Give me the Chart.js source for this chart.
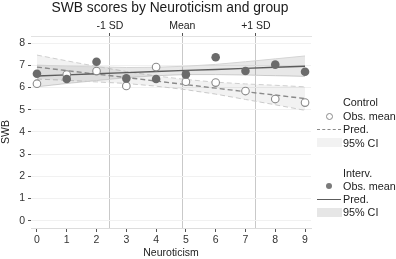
<!DOCTYPE html>
<html>
<head>
<meta charset="utf-8">
<script src="https://cdn.jsdelivr.net/npm/chart.js@4"></script>
<style>
html,body{margin:0;padding:0;background:#fff;}
#wrap{position:relative;width:396px;height:259px;font-family:"Liberation Sans",Arial,sans-serif;overflow:hidden;}
canvas{position:absolute;left:0;top:0;}
.lg{position:absolute;font-size:10.8px;color:#222;line-height:13px;white-space:nowrap;}
.mk{position:absolute;}
#title{position:absolute;left:0;width:340px;top:0;text-align:center;font-size:13.8px;line-height:16px;color:#1a1a1a;white-space:nowrap;}
</style>
</head>
<body>
<div id="wrap">
<canvas id="c" width="396" height="259"></canvas>
<div id="title">SWB scores by Neuroticism and group</div>
<div class="lg" style="left:343px;top:95.5px;">Control</div>
<div class="mk" style="left:326px;top:113px;width:5px;height:5px;border:1px solid #8a8a8a;border-radius:50%;background:#fff;"></div>
<div class="lg" style="left:343px;top:109.5px;">Obs. mean</div>
<div class="mk" style="left:317px;top:129px;width:24px;height:0;border-top:1.2px dashed #8a8a8a;"></div>
<div class="lg" style="left:343px;top:123px;">Pred.</div>
<div class="mk" style="left:317px;top:138px;width:25px;height:9px;background:#f2f2f2;"></div>
<div class="lg" style="left:343px;top:136.5px;">95% CI</div>

<div class="lg" style="left:343px;top:166.5px;">Interv.</div>
<div class="mk" style="left:326px;top:183px;width:6px;height:6px;border-radius:50%;background:#7a7a7a;"></div>
<div class="lg" style="left:343px;top:179.5px;">Obs. mean</div>
<div class="mk" style="left:317px;top:198.5px;width:24px;height:0;border-top:1.2px solid #5c5c5c;"></div>
<div class="lg" style="left:343px;top:192.5px;">Pred.</div>
<div class="mk" style="left:317px;top:208px;width:25px;height:9px;background:#e6e6e6;"></div>
<div class="lg" style="left:343px;top:205.5px;">95% CI</div>
</div>
<script>
// ---- data ----
const neuroticism = [0,1,2,3,4,5,6,7,8,9];
const controlObs = [6.17,6.58,6.74,6.07,6.92,6.26,6.22,5.84,5.48,5.32];
const intervObs  = [6.62,6.38,7.16,6.41,6.38,6.59,7.36,6.74,7.03,6.71];
const controlPred = [6.92,6.76,6.60,6.45,6.29,6.13,5.97,5.81,5.66,5.50];
const controlUpper = [7.46,7.20,6.95,6.72,6.52,6.36,6.24,6.16,6.10,6.03];
const controlLower = [6.38,6.32,6.25,6.18,6.06,5.90,5.70,5.46,5.22,4.97];
const intervPred = [6.52,6.57,6.62,6.67,6.72,6.77,6.81,6.86,6.91,6.96];
const intervUpper = [7.01,6.96,6.93,6.90,6.91,6.96,7.04,7.16,7.29,7.42];
const intervLower = [6.03,6.18,6.31,6.44,6.53,6.58,6.58,6.56,6.53,6.50];
const sdValues = [2.45,4.88,7.35];
const sdLabels = ["-1 SD","Mean","+1 SD"];
const yTicks = [0,1,2,3,4,5,6,7,8];
const xTicks = [0,1,2,3,4,5,6,7,8,9];

const pts = arr => neuroticism.map((x,i)=>({x:x,y:arr[i]}));
const FONT = "'Liberation Sans', Arial, sans-serif";
const lineBase = {type:'line', pointRadius:0, tension:0, borderWidth:1};

new Chart(document.getElementById('c'), {
  type:'line',
  data:{datasets:[
    {label:'Interv. Obs. mean', data:pts(intervObs), showLine:false, pointRadius:4.3, pointBackgroundColor:'#6b6b6b', pointBorderColor:'#6b6b6b', pointBorderWidth:0},
    {label:'Control Obs. mean', data:pts(controlObs), showLine:false, pointRadius:3.8, pointBackgroundColor:'#ffffff', pointBorderColor:'#8a8a8a', pointBorderWidth:1.1},
    Object.assign({}, lineBase, {label:'Interv. Pred.', data:pts(intervPred), borderColor:'#5c5c5c', borderWidth:1.4}),
    Object.assign({}, lineBase, {label:'Control Pred.', data:pts(controlPred), borderColor:'#8a8a8a', borderWidth:1.4, borderDash:[5,3]}),
    Object.assign({}, lineBase, {label:'Interv. CI upper', data:pts(intervUpper), borderColor:'#d4d4d4', fill:'+1', backgroundColor:'rgba(0,0,0,0.09)'}),
    Object.assign({}, lineBase, {label:'Interv. CI lower', data:pts(intervLower), borderColor:'#d4d4d4'}),
    Object.assign({}, lineBase, {label:'Control CI upper', data:pts(controlUpper), borderColor:'#cfcfcf', borderDash:[5,3], fill:'+1', backgroundColor:'rgba(0,0,0,0.05)'}),
    Object.assign({}, lineBase, {label:'Control CI lower', data:pts(controlLower), borderColor:'#cfcfcf', borderDash:[5,3]})
  ]},
  options:{
    responsive:false, animation:false,
    layout:{padding:{left:0,right:85,top:0,bottom:0}},
    plugins:{
      legend:{display:false}, tooltip:{enabled:false}, title:{display:false}
    },
    scales:{
      x:{type:'linear', position:'bottom', min:-0.2, max:9.2,
         afterBuildTicks:s=>{s.ticks = xTicks.map(v=>({value:v}));},
         afterFit:s=>{s.height = 31;},
         grid:{drawOnChartArea:false, tickLength:4, tickColor:'#555', tickWidth:1},
         border:{display:true, color:'#dcdcdc'},
         ticks:{color:'#333', font:{family:FONT,size:10.5}, padding:2, callback:v=>String(v), maxRotation:0},
         title:{display:true, text:'Neuroticism', color:'#222', font:{family:FONT,size:10.5}, padding:{top:0,bottom:0}}
      },
      x2:{type:'linear', position:'top', min:-0.2, max:9.2,
         afterBuildTicks:s=>{s.ticks = sdValues.map(v=>({value:v}));},
         afterFit:s=>{s.height = 36;},
         grid:{drawOnChartArea:true, color:'#c9c9c9', lineWidth:1, tickLength:3, tickColor:'#555'},
         border:{display:true, color:'#e2e2e2'},
         ticks:{color:'#222', font:{family:FONT,size:10.5}, padding:1, maxRotation:0, autoSkip:false,
                callback:(v,i)=>sdLabels[i]}
      },
      y:{type:'linear', position:'left', min:-0.33, max:8.32,
         afterBuildTicks:s=>{s.ticks = yTicks.map(v=>({value:v}));},
         afterFit:s=>{s.width = 31;},
         grid:{drawOnChartArea:true, color:'#f1f1f1', tickLength:3, tickColor:'#555'},
         border:{display:false},
         ticks:{color:'#333', font:{family:FONT,size:10.5}, padding:3, callback:v=>String(v)},
         title:{display:true, text:'SWB', color:'#222', font:{family:FONT,size:10.5}, padding:{top:0,bottom:4}}
      }
    }
  }
});
</script>
</body>
</html>
